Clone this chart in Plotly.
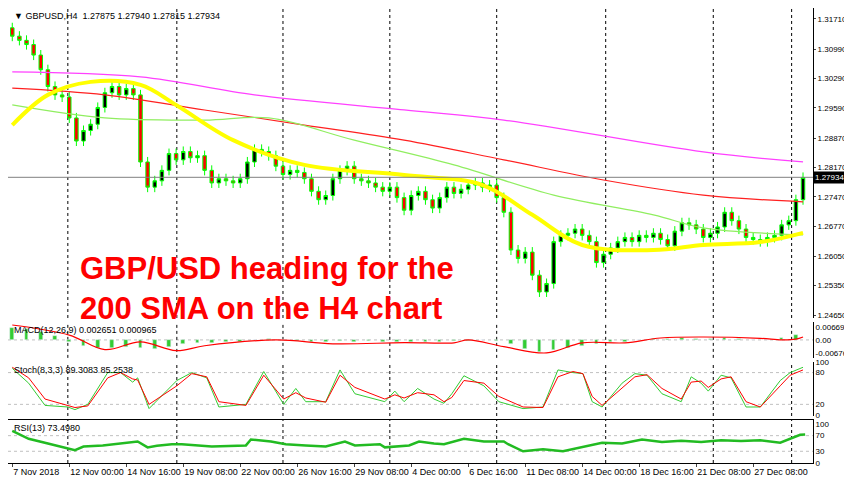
import plotly.graph_objects as go

# ---- price data (H4 bars, index 0..111) ----
closes = [1.3130, 1.3120, 1.3110, 1.3085, 1.3050, 1.3010, 1.2990, 1.2985, 1.2935, 1.2880,
          1.2905, 1.2920, 1.2960, 1.2995, 1.3010, 1.2990, 1.3005, 1.2990, 1.2830, 1.2770,
          1.2785, 1.2810, 1.2850, 1.2835, 1.2855, 1.2840, 1.2845, 1.2810, 1.2780, 1.2790,
          1.2785, 1.2780, 1.2790, 1.2830, 1.2860, 1.2855, 1.2845, 1.2820, 1.2800, 1.2810,
          1.2805, 1.2790, 1.2760, 1.2740, 1.2750, 1.2790, 1.2810, 1.2820, 1.2790, 1.2785,
          1.2780, 1.2770, 1.2760, 1.2770, 1.2745, 1.2715, 1.2750, 1.2760, 1.2740, 1.2720,
          1.2745, 1.2770, 1.2755, 1.2765, 1.2775, 1.2780, 1.2770, 1.2775, 1.2745, 1.2710,
          1.2620, 1.2600, 1.2615, 1.2560, 1.2520, 1.2540, 1.2640, 1.2655, 1.2660, 1.2670,
          1.2655, 1.2640, 1.2590, 1.2610, 1.2625, 1.2640, 1.2650, 1.2640, 1.2655, 1.2650,
          1.2660, 1.2645, 1.2630, 1.2665, 1.2685, 1.2680, 1.2670, 1.2650, 1.2660, 1.2675,
          1.2710, 1.2690, 1.2670, 1.2650, 1.2645, 1.2640, 1.2650, 1.2655, 1.2680, 1.2690,
          1.2740, 1.2793]
first_open = 1.3150
wick = 0.0012

# moving averages (bar index, value)
sma_magenta_x = [0, 18, 34, 55, 69, 97, 111]
sma_magenta_y = [1.3045, 1.3033, 1.2990, 1.2954, 1.2930, 1.2854, 1.2830]
sma_red_x = [0, 13, 27, 41, 55, 69, 83, 97, 111]
sma_red_y = [1.3006, 1.2990, 1.2954, 1.2918, 1.2882, 1.2835, 1.2787, 1.2751, 1.2735]
sma_green_x = [0, 13, 27, 36, 48, 62, 76, 90, 97, 111]
sma_green_y = [1.2966, 1.2935, 1.2930, 1.2935, 1.2882, 1.2823, 1.2751, 1.2704, 1.2673, 1.2656]
sma_yellow_x = [0, 5, 11, 18, 23, 31, 41, 55, 66, 73, 80, 90, 97, 105, 111]
sma_yellow_y = [1.2918, 1.2990, 1.3021, 1.3014, 1.2966, 1.2882, 1.2823, 1.2799, 1.2775,
                1.2704, 1.2632, 1.2620, 1.2632, 1.2639, 1.2661]

# MACD
macd_hist_x = list(range(0, 112, 2))
macd_hist = [0.006, 0.0055, 0.004, 0.002, -0.001, -0.003, -0.004, -0.0042, -0.0035, -0.004,
             -0.0045, -0.0035, -0.002, -0.0015, -0.0015, -0.001, -0.0008, 0.0002, 0.0003, -0.0002,
             -0.0005, -0.001, -0.0012, -0.0005, -0.0008, -0.0006, -0.0008, -0.001, -0.0009, -0.0008,
             -0.0009, -0.0006, -0.0003, 0.0, -0.0003, -0.002, -0.0045, -0.006, -0.005, -0.004,
             -0.003, -0.002, -0.001, -0.0008, 0.0002, 0.0006, 0.0005, 0.0008, 0.0006, 0.0005,
             0.0009, 0.0004, 0.0001, 0.0, 0.0008, 0.0028]
macd_sig_x = [0, 8, 13, 18, 23, 27, 37, 45, 55, 62, 64, 69, 75, 80, 86, 91, 97, 105, 108, 110, 111]
macd_sig = [0.0077, 0.0025, -0.005, -0.001, -0.0055, -0.003, 0.0, -0.002, -0.0014, -0.0015,
            0.0, -0.0035, -0.0067, -0.0015, -0.0015, 0.001, 0.0015, 0.0008, 0.0, 0.0004, 0.0015]

# Stochastic
stoch_x = [0, 2.3, 4.6, 7.8, 8.8, 10.6, 13.4, 15.2, 16.9, 17.6, 19.2, 23.1, 25.2, 27.3, 29,
           32.8, 35.3, 38.1, 39.8, 41.2, 44, 46, 48.1, 52.3, 53.7, 55, 56.9, 59.2, 60.6, 61.7,
           63.4, 66.2, 68.3, 71.7, 74.5, 76.6, 78.7, 80.1, 81.4, 82.8, 85.6, 87.4, 89.1, 91.2,
           93.9, 95.3, 96.7, 97.7, 99.5, 100.9, 103, 105, 107.8, 109.2, 111]
stoch_k = [88, 60, 18, 15, 10, 20, 80, 80, 62, 70, 12, 65, 80, 70, 15,
           20, 82, 20, 50, 25, 25, 85, 40, 25, 45, 25, 50, 30, 22, 40,
           74, 55, 25, 12, 15, 85, 80, 78, 25, 15, 60, 78, 75, 40,
           25, 72, 60, 45, 75, 70, 15, 15, 65, 80, 90]
stoch_d = [90, 70, 30, 17, 14, 17, 70, 80, 68, 66, 20, 55, 78, 72, 25,
           18, 75, 30, 42, 32, 24, 75, 52, 30, 38, 32, 42, 38, 25, 33,
           65, 60, 35, 15, 14, 72, 82, 78, 35, 18, 50, 72, 76, 50,
           30, 62, 64, 52, 68, 72, 25, 15, 55, 75, 85]

# RSI
rsi_x = [0, 2.3, 5, 7.8, 8.8, 10, 12.7, 17.6, 19, 20.3, 22.4, 23.8, 28, 32.8, 33.5, 36.3, 38.4,
         41.2, 44, 46.7, 48.1, 51.6, 52.3, 55.7, 57.1, 59.2, 60.6, 63.4, 66.2, 69, 69.6, 71.7,
         74.5, 77.3, 80.1, 82.8, 85.6, 88.4, 91.2, 93.9, 96.7, 99.5, 102.3, 105, 107.8, 110.6, 111.3]
rsi = [82, 62, 50, 38, 33, 42, 45, 55, 40, 44, 48, 48, 42, 45, 60, 55, 48,
       45, 42, 55, 45, 48, 40, 45, 55, 50, 48, 62, 55, 55, 48, 30,
       35, 30, 42, 52, 50, 60, 54, 57, 54, 58, 56, 58, 52, 72, 73]

x_ticks = list(range(0, 112, 8))
x_labels = ["7 Nov 2018", "12 Nov 00:00", "14 Nov 16:00", "19 Nov 08:00", "22 Nov 00:00",
            "26 Nov 16:00", "29 Nov 08:00", "4 Dec 00:00", "6 Dec 16:00", "11 Dec 08:00",
            "14 Dec 00:00", "18 Dec 16:00", "21 Dec 08:00", "27 Dec 08:00"]
price_ticks = [1.31710, 1.30990, 1.30290, 1.29590, 1.28870, 1.28170, 1.27470,
               1.26770, 1.26050, 1.25350, 1.24650]
grid_x = [7.8, 23.1, 38, 53, 68, 83.3, 98.4, 109.4]
last_price = 1.27934

idx = list(range(len(closes)))
opens = [first_open] + closes[:-1]
highs = [max(o, c) + wick for o, c in zip(opens, closes)]
lows = [min(o, c) - wick for o, c in zip(opens, closes)]

fig = go.Figure()
fig.add_trace(go.Candlestick(
    x=idx, open=opens, high=highs, low=lows, close=closes,
    increasing=dict(line=dict(color="#00ff00", width=1), fillcolor="#000000"),
    decreasing=dict(line=dict(color="#00ff00", width=1), fillcolor="#ff0000"),
    whiskerwidth=0, xaxis="x", yaxis="y", showlegend=False))
for xs, ys, col, w in [(sma_magenta_x, sma_magenta_y, "#ff40ff", 1.2),
                       (sma_red_x, sma_red_y, "#ff2020", 1.2),
                       (sma_green_x, sma_green_y, "#90ee60", 1.2),
                       (sma_yellow_x, sma_yellow_y, "#ffff00", 4)]:
    fig.add_trace(go.Scatter(x=xs, y=ys, mode="lines", line=dict(color=col, width=w, shape="spline"),
                             xaxis="x", yaxis="y", showlegend=False, hoverinfo="skip"))

fig.add_trace(go.Bar(x=macd_hist_x, y=macd_hist, marker_color="#33cc33", width=0.5,
                     xaxis="x", yaxis="y2", showlegend=False))
fig.add_trace(go.Scatter(x=macd_sig_x, y=macd_sig, mode="lines", line=dict(color="#ff0000", width=1.2, shape="spline"),
                         xaxis="x", yaxis="y2", showlegend=False))
fig.add_trace(go.Scatter(x=stoch_x, y=stoch_k, mode="lines", line=dict(color="#33cc33", width=1),
                         xaxis="x", yaxis="y3", showlegend=False))
fig.add_trace(go.Scatter(x=stoch_x, y=stoch_d, mode="lines", line=dict(color="#ff0000", width=1),
                         xaxis="x", yaxis="y3", showlegend=False))
fig.add_trace(go.Scatter(x=rsi_x, y=rsi, mode="lines", line=dict(color="#22bb22", width=2.5),
                         xaxis="x", yaxis="y4", showlegend=False))

xr = [-0.6, 112.4]
main_rng = [1.24579, 1.31972]
frame = dict(showline=True, linecolor="#000000", linewidth=1, mirror=True, showgrid=False, zeroline=False)
tfont = dict(family="Liberation Sans, Arial", size=9, color="#000000")
sfont = dict(family="Liberation Sans, Arial", size=8, color="#000000")
# page body adds 8px, so the figure is 8px smaller than the window
fig.update_layout(
    width=844, height=477, margin=dict(l=0, r=39, t=0, b=22, autoexpand=False),
    paper_bgcolor="white", plot_bgcolor="white",
    xaxis=dict(range=xr, rangeslider=dict(visible=False), tickvals=x_ticks, ticktext=x_labels,
               ticklabelposition="outside right", tickangle=0, ticks="outside", ticklen=3, tickfont=tfont,
               anchor="y4", **frame),
    yaxis=dict(domain=[0.3187, 1.0], range=main_rng, side="right", tickvals=price_ticks,
               ticktext=["%.5f" % v for v in price_ticks], ticks="outside", ticklen=2, tickfont=sfont, **frame),
    yaxis2=dict(domain=[0.231, 0.310], range=[-0.00927, 0.00927], side="right",
                tickvals=[0.006693, 0.0, -0.006767], ticktext=["0.006693", "0.00", "-0.006767"],
                tickfont=sfont, **frame),
    yaxis3=dict(domain=[0.1033, 0.222], range=[-2, 100], side="right", tickvals=[100, 80, 20, 0],
                tickfont=sfont, **frame),
    yaxis4=dict(domain=[0.0, 0.0945], range=[0, 110], side="right", tickvals=[100, 70, 30, 0],
                tickfont=sfont, **frame),
    bargap=0,
)

shapes = []
for gx in grid_x:
    for yref, lo, hi in [("y", main_rng[0], main_rng[1]), ("y2", -0.00927, 0.00927), ("y3", -2, 100), ("y4", 0, 110)]:
        shapes.append(dict(type="line", xref="x", yref=yref, x0=gx, x1=gx, y0=lo, y1=hi,
                           line=dict(color="#000000", width=1, dash="3px,3px"), layer="below"))
for yref, v in [("y2", 0), ("y3", 80), ("y3", 20), ("y4", 70), ("y4", 30)]:
    shapes.append(dict(type="line", xref="paper", yref=yref, x0=0, x1=1, y0=v, y1=v,
                       line=dict(color="#c0c0c0", width=1, dash="3px,3px"), layer="below"))
shapes.append(dict(type="line", xref="paper", yref="y", x0=0, x1=1, y0=last_price, y1=last_price,
                   line=dict(color="#808080", width=1)))
fig.update_layout(shapes=shapes)

anns = [
    dict(text="▼ GBPUSD,H4  1.27875 1.27940 1.27815 1.27934", xref="paper", yref="paper", x=0.005, y=0.998),
    dict(text="MACD(12,26,9) 0.002651 0.000965", xref="paper", yref="paper", x=0.005, y=0.308),
    dict(text="Stoch(8,3,3) 89.3083 85.2538", xref="paper", yref="paper", x=0.005, y=0.220),
    dict(text="RSI(13) 73.4980", xref="paper", yref="paper", x=0.005, y=0.093),
]
for a in anns:
    fig.add_annotation(showarrow=False, xanchor="left", yanchor="top", font=tfont, **a)
fig.add_annotation(text="1.27934", xref="paper", yref="y", x=1.0, y=last_price, xanchor="left",
                   showarrow=False, bgcolor="#000000", font=dict(family="Liberation Sans, Arial", size=8, color="white"),
                   borderpad=1)
fig.add_annotation(text="GBP/USD heading for the<br>200 SMA on the H4 chart", xref="paper", yref="paper",
                   x=0.087, y=0.47, xanchor="left", yanchor="top", align="left", showarrow=False,
                   font=dict(family="Liberation Sans, Arial", size=31, color="#ff0000", weight="bold"))

fig.write_html("out.html")
